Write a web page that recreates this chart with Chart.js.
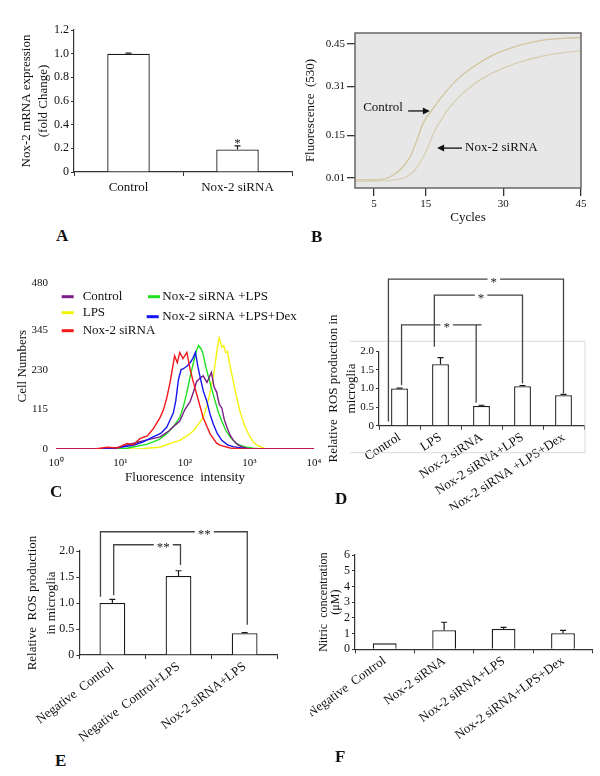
<!DOCTYPE html>
<html lang="en">
<head>
<meta charset="UTF-8">
<title>Nox-2 siRNA panels</title>
<script src="https://cdn.jsdelivr.net/npm/chart.js"></script>
<style>
  body { margin: 0; background: #fff; }
  #fig { position: relative; width: 600px; height: 776px; overflow: hidden; background: #fff; }
  #fig canvas { position: absolute; }
  .tag { position: absolute; font: bold 17px 'Liberation Serif', 'Times New Roman', serif; color: #111; }
</style>
</head>
<body>
<div id="fig">
  <canvas id="chartA" width="300" height="215" style="left:0px;top:0px"></canvas>
  <canvas id="chartB" width="300" height="230" style="left:300px;top:0px"></canvas>
  <canvas id="chartC" width="330" height="220" style="left:0px;top:270px"></canvas>
  <canvas id="chartD" width="280" height="240" style="left:320px;top:270px"></canvas>
  <canvas id="chartE" width="320" height="230" style="left:0px;top:515px"></canvas>
  <canvas id="chartF" width="290" height="200" style="left:310px;top:540px"></canvas>
  <div class="tag" style="left:56px;top:226px">A</div>
  <div class="tag" style="left:311px;top:227px">B</div>
  <div class="tag" style="left:50px;top:482px">C</div>
  <div class="tag" style="left:335px;top:489px">D</div>
  <div class="tag" style="left:55px;top:751px">E</div>
  <div class="tag" style="left:335px;top:747px">F</div>
</div>
<script>
// ---- A: Nox-2 mRNA expression ----
const aLabels = ['Control', 'Nox-2 siRNA'];
const aMeans = [1.0, 0.19];
const aErrs = [0.004, 0.03];

// ---- B: amplification curves ----
const bTicksX = [5, 15, 30, 45];
const bTicksY = [0.01, 0.15, 0.31, 0.45];
const ctrlCycles = [1.3, 5.0, 7.5, 8.7, 10.0, 12.0, 13.3, 14.5, 16.2, 18.4, 21.0, 24.2, 28.1, 32.6, 37.1, 42.2, 45];
const ctrlFluor = [0.004, 0.004, 0.009, 0.020, 0.036, 0.080, 0.135, 0.190, 0.233, 0.283, 0.332, 0.375, 0.414, 0.443, 0.461, 0.469, 0.471];
const noxCycles = [1.3, 5.0, 8.7, 11.3, 12.9, 14.2, 15.2, 16.5, 17.8, 19.7, 22.9, 26.8, 31.9, 37.1, 42.2, 45];
const noxFluor = [-0.002, 0.0, 0.003, 0.014, 0.036, 0.069, 0.102, 0.157, 0.195, 0.244, 0.299, 0.345, 0.383, 0.408, 0.423, 0.427];

// ---- C: flow cytometry histograms ----
const cTickValues = [1, 10, 100, 1000, 10000];
const cTickLabels = ['10\u2070', '10\u00b9', '10\u00b2', '10\u00b3', '10\u2074'];
const cCountTicks = [0, 115, 230, 345, 480];
const ctlInt = [1, 6.3, 9.8, 14, 20, 28, 41, 56, 71, 83, 100, 120, 135, 151, 170, 191, 219, 257, 282, 309, 339, 372, 407, 447, 501, 562, 661, 794, 1000, 10000];
const ctlCount = [0, 0, 5, 14, 21, 28, 35, 52, 70, 81, 115, 137, 165, 195, 205, 212, 193, 222, 180, 165, 130, 119, 85, 63, 40, 25, 12, 5, 0, 0];
const lpsInt = [1, 20, 28, 41, 56, 83, 112, 135, 166, 191, 219, 245, 275, 295, 316, 339, 372, 398, 427, 457, 501, 562, 631, 708, 832, 955, 1122, 1288, 1778, 10000];
const lpsCount = [0, 0, 3, 5, 15, 25, 40, 53, 75, 91, 125, 165, 210, 250, 290, 322, 295, 300, 280, 282, 240, 195, 150, 111, 70, 45, 22, 12, 0, 0];
const sirInt = [1, 4, 6.2, 8.9, 12.6, 15.8, 20, 26, 32, 41, 46, 52, 59, 69, 76, 83, 93, 107, 120, 135, 162, 191, 219, 245, 309, 347, 501, 794, 10000];
const sirCount = [0, 0, 5, 3, 16, 12, 30, 38, 58, 91, 112, 147, 195, 270, 250, 280, 262, 280, 231, 193, 140, 91, 65, 44, 17, 11, 3, 0, 0];
const slpInt = [1, 8, 12.6, 26, 40, 52, 66, 83, 95, 107, 120, 135, 151, 162, 178, 191, 209, 229, 263, 295, 331, 372, 427, 501, 603, 708, 891, 1148, 1585, 10000];
const slpCount = [0, 0, 2, 14, 28, 44, 65, 91, 125, 165, 210, 250, 285, 300, 290, 275, 240, 212, 170, 137, 105, 81, 55, 35, 18, 11, 5, 2, 0, 0];
const dexInt = [1, 5, 7.8, 15.8, 22, 32, 42, 52, 59, 66, 72, 79, 87, 93, 107, 120, 132, 145, 158, 170, 191, 219, 245, 275, 316, 372, 457, 562, 912, 10000];
const dexCount = [0, 0, 2, 11, 20, 35, 45, 63, 85, 105, 140, 200, 230, 232, 240, 250, 262, 280, 240, 212, 170, 137, 100, 72, 45, 25, 12, 7, 0, 0];

// ---- D: ROS production ----
const dLabels = ['Control', 'LPS', 'Nox-2 siRNA', 'Nox-2 siRNA+LPS', 'Nox-2 siRNA +LPS+Dex'];
const dMeans = [1.0, 1.65, 0.53, 1.06, 0.82];
const dErrs = [0.01, 0.18, 0.02, 0.02, 0.02];
// significance brackets, [category, value] points
const dBrackets = [
  [[-0.27, 0.11], [-0.27, 3.94], [4.0, 3.94], [4.0, 0.87]],
  [[0.85, 2.12], [0.85, 3.51], [3.0, 3.51], [3.0, 1.14]],
  [[0.05, 1.09], [0.05, 2.71], [2.0, 2.71]],
  [[1.87, 2.71], [1.87, 0.62]]
];
const dStars = [[2.30, 3.94, '*'], [1.99, 3.51, '*'], [1.15, 2.71, '*']];

// ---- E: ROS production, negative control ----
const eLabels = ['Negative  Control', 'Negative  Control+LPS', 'Nox-2 siRNA+LPS'];
const eMeans = [1.0, 1.52, 0.42];
const eErrs = [0.07, 0.10, 0.01];
const eBrackets = [
  [[-0.18, 1.12], [-0.18, 2.37], [2.04, 2.37], [2.04, 0.58]],
  [[0.02, 1.15], [0.02, 2.12], [1.03, 2.12], [1.03, 1.73]]
];
const eStars = [[1.39, 2.37, '**'], [0.77, 2.12, '**']];

// ---- F: nitric concentration ----
const fLabels = ['Negative  Control', 'Nox-2 siRNA', 'Nox-2 siRNA+LPS', 'Nox-2 siRNA+LPS+Dex'];
const fMeans = [0.38, 1.21, 1.29, 1.02];
const fErrs = [0, 0.51, 0.11, 0.19];

const AXIS = '#333';
const INK = '#111';
const SERIF = "'Liberation Serif', 'Times New Roman', serif";

Chart.defaults.font.family = SERIF;
Chart.defaults.font.size = 12;
Chart.defaults.color = INK;
Chart.defaults.animation = false;
Chart.defaults.responsive = false;
Chart.defaults.devicePixelRatio = 1;
Chart.defaults.plugins.legend.display = false;
Chart.defaults.plugins.tooltip.enabled = false;

// fixed axis sizes so every plot area lands where the figure has it
function yFit(w) {
  return function (s) { s.width = w; s.paddingTop = 0; s.paddingBottom = 0; s.paddingLeft = 0; s.paddingRight = 0; };
}
function xFit(h) {
  return function (s) { s.height = h; s.paddingTop = 0; s.paddingBottom = 0; s.paddingLeft = 0; s.paddingRight = 0; };
}
function pairs(xs, ys) {
  return xs.map((x, i) => ({ x: x, y: ys[i] }));
}

const figMarks = {
  id: 'fig',
  defaults: {},
  beforeDraw(chart, args, o) {
    if (!o.panel) return;
    const { ctx, chartArea: a } = chart;
    ctx.save();
    ctx.fillStyle = o.panel;
    ctx.fillRect(a.left, a.top, a.right - a.left, a.bottom - a.top);
    ctx.restore();
  },
  afterDraw(chart, args, o) {
    const { ctx, chartArea: a, scales } = chart;
    const px = v => scales.x.getPixelForValue(v);
    const py = v => scales.y.getPixelForValue(v);
    ctx.save();
    ctx.font = '13px ' + SERIF;

    if (o.panelEdge) {
      ctx.strokeStyle = o.panelEdge;
      ctx.lineWidth = 1.5;
      ctx.strokeRect(a.left, a.top, a.right - a.left, a.bottom - a.top);
    }
    if (o.frame) {
      ctx.strokeStyle = '#dadada';
      ctx.lineWidth = 1;
      ctx.beginPath();
      ctx.moveTo(a.left + o.frame[0], a.top + o.frame[1]);
      ctx.lineTo(a.right + o.frame[2], a.top + o.frame[1]);
      ctx.lineTo(a.right + o.frame[2], a.bottom + o.frame[3]);
      ctx.lineTo(a.left + o.frame[0], a.bottom + o.frame[3]);
      ctx.stroke();
    }
    if (o.errors) {
      const meta = chart.getDatasetMeta(0);
      const vals = chart.data.datasets[0].data;
      ctx.strokeStyle = '#1a1a1a';
      ctx.lineWidth = 1.2;
      meta.data.forEach((bar, i) => {
        const e = o.errors[i];
        if (!e) return;
        const top = py(vals[i] + e);
        ctx.beginPath();
        ctx.moveTo(bar.x, bar.y);
        ctx.lineTo(bar.x, top);
        ctx.moveTo(bar.x - 3, top);
        ctx.lineTo(bar.x + 3, top);
        ctx.stroke();
      });
    }
    if (o.paths) {
      ctx.strokeStyle = '#444';
      ctx.lineWidth = 1.3;
      o.paths.forEach(path => {
        ctx.beginPath();
        path.forEach((p, i) => {
          if (i === 0) ctx.moveTo(px(p[0]), py(p[1]));
          else ctx.lineTo(px(p[0]), py(p[1]));
        });
        ctx.stroke();
      });
    }
    if (o.stars) {
      ctx.textAlign = 'center';
      ctx.textBaseline = 'middle';
      o.stars.forEach(s => {
        const X = px(s[0]), Y = py(s[1]);
        const w = ctx.measureText(s[2]).width + 6;
        ctx.fillStyle = '#fff';
        ctx.fillRect(X - w / 2, Y - 3, w, 6);
        ctx.fillStyle = '#222';
        ctx.fillText(s[2], X, Y + 3);
      });
    }
    if (o.arrows) {
      ctx.strokeStyle = '#111';
      ctx.fillStyle = '#111';
      ctx.lineWidth = 1.3;
      o.arrows.forEach(ar => {
        const x1 = px(ar[0][0]), y1 = py(ar[0][1]), x2 = px(ar[1][0]), y2 = py(ar[1][1]);
        const dir = Math.sign(x2 - x1);
        ctx.beginPath();
        ctx.moveTo(x1, y1);
        ctx.lineTo(x2 - dir * 5, y2);
        ctx.stroke();
        ctx.beginPath();
        ctx.moveTo(x2, y2);
        ctx.lineTo(x2 - dir * 7, y2 - 3.5);
        ctx.lineTo(x2 - dir * 7, y2 + 3.5);
        ctx.closePath();
        ctx.fill();
      });
    }
    if (o.notes) {
      ctx.fillStyle = INK;
      ctx.textAlign = 'left';
      ctx.textBaseline = 'middle';
      o.notes.forEach(n => ctx.fillText(n[2], px(n[0]), py(n[1])));
    }
    if (o.legend) {
      ctx.textAlign = 'left';
      ctx.textBaseline = 'middle';
      o.legend.forEach((item, i) => {
        const ds = chart.data.datasets[i];
        const y = a.top + item[2];
        ctx.strokeStyle = ds.borderColor;
        ctx.lineWidth = 3;
        ctx.beginPath();
        ctx.moveTo(a.left + item[0], y);
        ctx.lineTo(a.left + item[0] + 12, y);
        ctx.stroke();
        ctx.fillStyle = INK;
        ctx.fillText(ds.label, a.left + item[1], y);
      });
    }
    ctx.restore();
  }
};
Chart.register(figMarks);

function barPanel(id, labels, means, errs, cfg) {
  return new Chart(document.getElementById(id), {
    type: 'bar',
    data: {
      labels: labels,
      datasets: [{
        data: means,
        backgroundColor: '#ffffff',
        borderColor: '#1a1a1a',
        borderWidth: 1.3,
        barPercentage: cfg.barPct,
        categoryPercentage: 1
      }]
    },
    options: {
      layout: { padding: { top: cfg.padTop, right: cfg.padRight, left: 0, bottom: 0 } },
      scales: {
        x: {
          afterFit: xFit(cfg.xHeight),
          grid: { offset: true, drawOnChartArea: false, tickLength: 4, color: AXIS },
          border: { color: AXIS, width: 1.2 },
          ticks: { autoSkip: false, minRotation: cfg.rot, maxRotation: cfg.rot, padding: cfg.xPad, color: INK, font: { size: 13 } }
        },
        y: {
          min: 0,
          max: cfg.max,
          afterFit: yFit(cfg.yWidth),
          grid: { drawOnChartArea: false, tickLength: 3, color: AXIS },
          border: { color: AXIS, width: 1.2 },
          ticks: { autoSkip: false, stepSize: cfg.step, padding: 2, color: INK, font: { size: cfg.tickSize }, callback: cfg.fmt },
          title: {
            display: true, text: cfg.title, color: INK,
            font: { size: cfg.titleSize, lineHeight: cfg.titleLH },
            padding: { top: cfg.titlePad, bottom: 0 }
          }
        }
      },
      plugins: { fig: { errors: errs, paths: cfg.paths, stars: cfg.stars, frame: cfg.frame } }
    }
  });
}

const oneDecimal = v => (v === 0 ? '0' : v.toFixed(1));

// A
barPanel('chartA', aLabels, aMeans, aErrs, {
  barPct: 0.39, padTop: 30, padRight: 8, xHeight: 43, yWidth: 74, rot: 0, xPad: 4,
  max: 1.2, step: 0.2, fmt: oneDecimal, tickSize: 12,
  title: ['Nox-2 mRNA expression', '(fold Change)'], titleSize: 13, titleLH: 1.3, titlePad: 18.5,
  stars: [[1, 0.265, '*']]
});

// B
new Chart(document.getElementById('chartB'), {
  type: 'line',
  data: {
    datasets: [
      { data: pairs(ctrlCycles, ctrlFluor), borderColor: '#d2c59c', borderWidth: 1.3, pointRadius: 0, cubicInterpolationMode: 'monotone' },
      { data: pairs(noxCycles, noxFluor), borderColor: '#d8d0b4', borderWidth: 1.3, pointRadius: 0, cubicInterpolationMode: 'monotone' }
    ]
  },
  options: {
    layout: { padding: { top: 33, right: 19, left: 0, bottom: 0 } },
    scales: {
      x: {
        type: 'linear', min: 1.33, max: 45,
        afterBuildTicks: s => { s.ticks = bTicksX.map(v => ({ value: v })); },
        afterFit: xFit(42),
        grid: { drawOnChartArea: false, tickLength: 8, color: AXIS, lineWidth: 1.3 },
        border: { display: false },
        ticks: { padding: 2, color: INK, font: { size: 11 } },
        title: { display: true, text: 'Cycles', color: INK, font: { size: 13 }, padding: { top: 0, bottom: 5 } }
      },
      y: {
        type: 'linear', min: -0.023, max: 0.486,
        afterBuildTicks: s => { s.ticks = bTicksY.map(v => ({ value: v })); },
        afterFit: yFit(55),
        grid: { drawOnChartArea: false, tickLength: 8, color: AXIS, lineWidth: 1.3 },
        border: { display: false },
        ticks: { padding: 2, color: INK, font: { size: 11 }, callback: v => v.toFixed(2) },
        title: { display: true, text: 'Fluorescence  (530)', color: INK, font: { size: 13 }, padding: { top: 3, bottom: 0 } }
      }
    },
    plugins: {
      fig: {
        panel: '#e7e7e7',
        panelEdge: '#666',
        notes: [[2.9, 0.241, 'Control'], [22.6, 0.11, 'Nox-2 siRNA']],
        arrows: [[[11.6, 0.23], [15.8, 0.23]], [[22.0, 0.108], [17.2, 0.108]]]
      }
    }
  }
});

// C
const histLine = (label, xs, ys, color, order) => ({
  label: label, data: pairs(xs, ys), borderColor: color, borderWidth: 1.4,
  pointRadius: 0, tension: 0, order: order
});
new Chart(document.getElementById('chartC'), {
  type: 'line',
  data: {
    datasets: [
      histLine('Control', ctlInt, ctlCount, '#7b1f86', 2),
      histLine('LPS', lpsInt, lpsCount, '#f2f20c', 4),
      histLine('Nox-2 siRNA', sirInt, sirCount, '#f2181c', 0),
      histLine('Nox-2 siRNA +LPS', slpInt, slpCount, '#1fe01f', 3),
      histLine('Nox-2 siRNA +LPS+Dex', dexInt, dexCount, '#1414f0', 1)
    ]
  },
  options: {
    layout: { padding: { top: 13.4, right: 16, left: 0, bottom: 0 } },
    scales: {
      x: {
        type: 'logarithmic', min: 1, max: 10000,
        afterBuildTicks: s => { s.ticks = cTickValues.map(v => ({ value: v })); },
        afterFit: xFit(41),
        grid: { display: false, drawTicks: false },
        border: { display: false },
        ticks: { autoSkip: false, padding: 8, color: INK, font: { size: 11 }, callback: (v, i) => cTickLabels[i] },
        title: { display: true, text: 'Fluorescence  intensity', color: INK, font: { size: 13 }, padding: { top: 0, bottom: 5 } }
      },
      y: {
        type: 'linear', min: 0, max: 480,
        afterBuildTicks: s => { s.ticks = cCountTicks.map(v => ({ value: v })); },
        afterFit: yFit(56),
        grid: { display: false, drawTicks: false },
        border: { display: false },
        ticks: { padding: 8, color: INK, font: { size: 11 } },
        title: { display: true, text: 'Cell Numbers', color: INK, font: { size: 13 }, padding: { top: 15, bottom: 0 } }
      }
    },
    plugins: {
      fig: {
        legend: [[5.7, 26.7, 13.3], [5.7, 26.7, 29.3], [5.7, 26.7, 47.3], [92, 106.3, 13.3], [90.7, 106.3, 33.3]]
      }
    }
  }
});

// D
barPanel('chartD', dLabels, dMeans, dErrs, {
  barPct: 0.41, padTop: 81.3, padRight: 16, xHeight: 84.3, yWidth: 59, rot: 33, xPad: 0,
  max: 2.0, step: 0.5, fmt: oneDecimal, tickSize: 11,
  title: ['Relative  ROS production in', 'microglia'], titleSize: 13, titleLH: 1.4, titlePad: 4,
  paths: dBrackets, stars: dStars, frame: [-29, -10, 1, 27]
});

// E
barPanel('chartE', eLabels, eMeans, eErrs, {
  barPct: 0.39, padTop: 36, padRight: 42.3, xHeight: 90, yWidth: 79.3, rot: 37, xPad: 0,
  max: 2.0, step: 0.5, fmt: oneDecimal, tickSize: 12,
  title: ['Relative  ROS production', 'in microglia'], titleSize: 13, titleLH: 1.45, titlePad: 23.6,
  paths: eBrackets, stars: eStars
});

// F
barPanel('chartF', fLabels, fMeans, fErrs, {
  barPct: 0.40, padTop: 15, padRight: 7.3, xHeight: 90.7, yWidth: 45, rot: 36, xPad: 0,
  max: 6, step: 1, fmt: v => String(v), tickSize: 12,
  title: ['Nitric  concentration', '(\u03bcM)'], titleSize: 12, titleLH: 1.0, titlePad: 8
});
</script>
</body>
</html>
